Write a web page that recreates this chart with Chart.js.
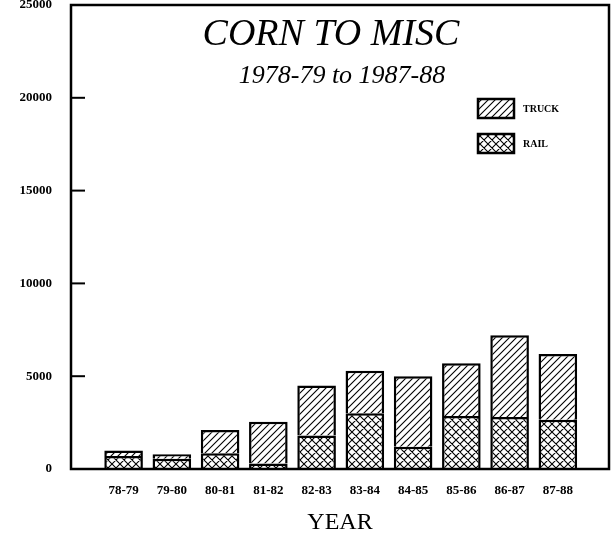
<!DOCTYPE html>
<html>
<head>
<meta charset="utf-8">
<script src="https://cdn.jsdelivr.net/npm/chart.js@4/dist/chart.umd.min.js"></script>
<style>
  html, body { margin: 0; padding: 0; background: #fff; }
  #wrap { width: 613px; height: 539px; position: relative; }
</style>
</head>
<body>
<div id="wrap"><canvas id="chart" width="613" height="539"></canvas></div>
<script>
// Corn shipments to miscellaneous destinations, by crop year (tons)
const seasons = ['78-79', '79-80', '80-81', '81-82', '82-83', '83-84', '84-85', '85-86', '86-87', '87-88'];
const railTons = [700, 550, 850, 300, 1800, 3000, 1200, 2850, 2800, 2650];
const truckTons = [300, 250, 1250, 2250, 2700, 2300, 3800, 2850, 4400, 3550];
const yTickValues = [0, 5000, 10000, 15000, 20000, 25000];
const chartTitle = 'CORN TO MISC';
const chartSubtitle = '1978-79 to 1987-88';
const xAxisTitle = 'YEAR';

const SERIF = '"Liberation Serif", "DejaVu Serif", serif';
const canvas = document.getElementById('chart');
const ctx = canvas.getContext('2d');

// Black-on-white hatch fills: single diagonals for truck, cross-hatch for rail
function makeHatch(size, cross) {
  const c = document.createElement('canvas');
  c.width = size; c.height = size;
  const g = c.getContext('2d');
  g.fillStyle = '#fff';
  g.fillRect(0, 0, size, size);
  g.strokeStyle = '#000';
  g.lineWidth = 1.1;
  g.beginPath();
  g.moveTo(-1, size + 1); g.lineTo(size + 1, -1);
  g.moveTo(-1, 1); g.lineTo(1, -1);
  g.moveTo(size - 1, size + 1); g.lineTo(size + 1, size - 1);
  if (cross) {
    g.moveTo(-1, -1); g.lineTo(size + 1, size + 1);
    g.moveTo(size - 1, -1); g.lineTo(size + 1, 1);
    g.moveTo(-1, size - 1); g.lineTo(1, size + 1);
  }
  g.stroke();
  return ctx.createPattern(c, 'repeat');
}
const truckFill = makeHatch(7, false);
const railFill = makeHatch(8, true);

const toPoints = arr => arr.map((v, i) => ({ x: i, y: v }));

// Frame, inward tick marks, titles and legend
const decorations = {
  id: 'decorations',
  afterDatasetsDraw(chart) {
    const { ctx, chartArea: a, scales } = chart;
    ctx.save();
    ctx.strokeStyle = '#000';
    ctx.lineCap = 'square';
    // inward y tick marks
    ctx.lineWidth = 2;
    scales.y.ticks.forEach(t => {
      if (t.value <= scales.y.min || t.value >= scales.y.max) return;
      const y = scales.y.getPixelForValue(t.value);
      ctx.beginPath();
      ctx.moveTo(a.left, y);
      ctx.lineTo(a.left + 13, y);
      ctx.stroke();
    });
    // plot frame
    ctx.lineWidth = 2.5;
    ctx.strokeRect(a.left, a.top, a.right - a.left, a.bottom - a.top);

    // titles
    ctx.fillStyle = '#000';
    ctx.textAlign = 'center';
    ctx.textBaseline = 'alphabetic';
    ctx.font = 'italic 38px ' + SERIF;
    ctx.fillText(chartTitle, 331, 45);
    ctx.font = 'italic 26px ' + SERIF;
    ctx.fillText(chartSubtitle, 342, 83);

    // legend (top entry is the upper stack)
    const items = chart.data.datasets.slice().reverse();
    items.forEach((ds, i) => {
      const bx = 478, by = 99 + i * 35, bw = 36, bh = 19;
      ctx.fillStyle = ds.backgroundColor;
      ctx.fillRect(bx, by, bw, bh);
      ctx.lineWidth = 2.5;
      ctx.strokeRect(bx, by, bw, bh);
      ctx.fillStyle = '#000';
      ctx.textAlign = 'left';
      ctx.textBaseline = 'middle';
      ctx.font = 'bold 10px ' + SERIF;
      ctx.fillText(ds.label, 523, by + bh / 2 + 1);
    });
    ctx.restore();
  }
};

new Chart(ctx, {
  type: 'bar',
  data: {
    datasets: [
      {
        label: 'RAIL',
        data: toPoints(railTons),
        backgroundColor: railFill,
        borderColor: '#000',
        borderWidth: 2.5,
        borderSkipped: 'start',
        barPercentage: 0.8,
        categoryPercentage: 1.0
      },
      {
        label: 'TRUCK',
        data: toPoints(truckTons),
        backgroundColor: truckFill,
        borderColor: '#000',
        borderWidth: 2.5,
        borderSkipped: 'start',
        barPercentage: 0.8,
        categoryPercentage: 1.0
      }
    ]
  },
  options: {
    responsive: false,
    animation: false,
    layout: { padding: { top: 5, right: 4, left: 0, bottom: 0 } },
    plugins: {
      legend: { display: false },
      title: { display: false },
      tooltip: { enabled: false }
    },
    scales: {
      x: {
        type: 'linear',
        stacked: true,
        offset: false,
        min: -1.09,
        max: 10.06,
        grid: { display: false, drawTicks: false, offset: false },
        border: { display: false },
        afterBuildTicks: s => { s.ticks = seasons.map((_, i) => ({ value: i })); },
        afterFit: s => { s.height = 70; },
        ticks: {
          autoSkip: false,
          maxRotation: 0,
          padding: 14,
          color: '#000',
          font: { family: SERIF, size: 13, weight: 'bold' },
          callback: v => seasons[v]
        },
        title: {
          display: true,
          text: xAxisTitle,
          color: '#000',
          font: { family: SERIF, size: 24, weight: 'normal' },
          padding: { top: 0, bottom: 2 }
        }
      },
      y: {
        stacked: true,
        min: 0,
        max: 25000,
        grid: { display: false, drawTicks: false },
        border: { display: false },
        afterBuildTicks: s => { s.ticks = yTickValues.map(v => ({ value: v })); },
        afterFit: s => { s.width = 71; s.paddingTop = 0; s.paddingBottom = 0; },
        ticks: {
          padding: 19,
          color: '#000',
          font: { family: SERIF, size: 13, weight: 'bold' },
          callback: v => String(v)
        }
      }
    }
  },
  plugins: [decorations]
});
</script>
</body>
</html>
